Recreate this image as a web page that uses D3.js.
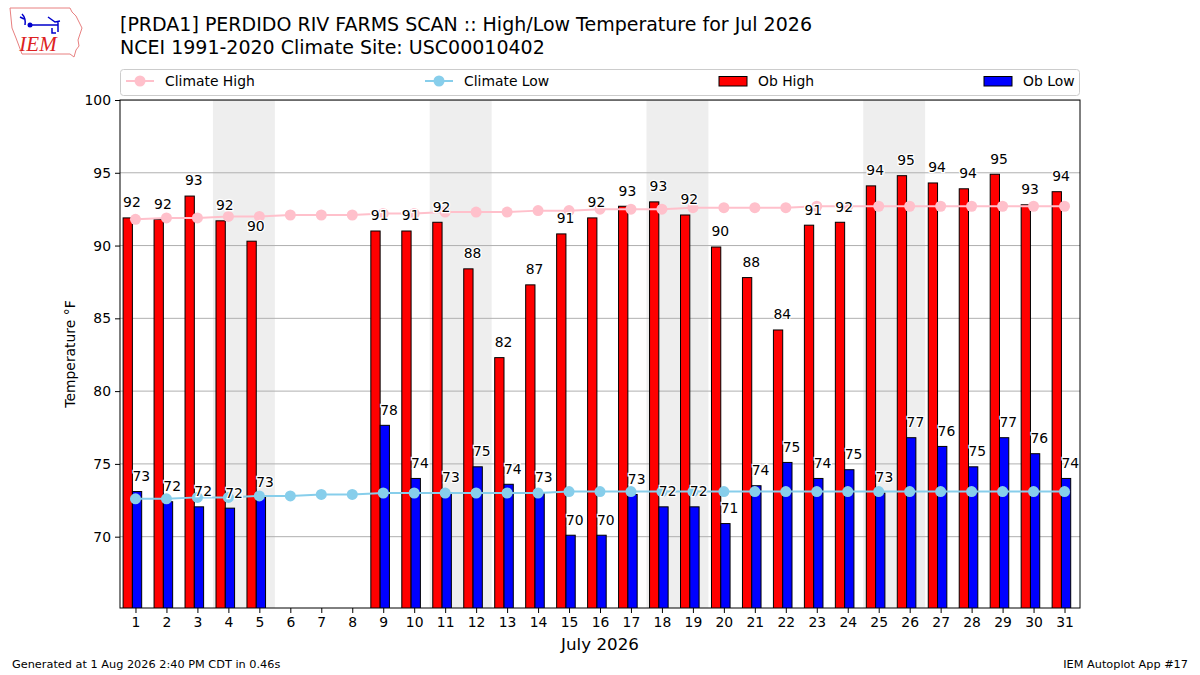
<!DOCTYPE html>
<html>
<head>
<meta charset="utf-8">
<script src="https://cdn.jsdelivr.net/npm/d3@7"></script>
<style>
  body { margin: 0; background: #fff; }
  svg { font-family: "DejaVu Sans", sans-serif; }
</style>
</head>
<body>
<div id="chart"></div>
<script>
(function() {
  // ---- data ----
  var days = d3.range(1, 32);
  // observed highs / lows (null = missing)
  var obHigh = [91.9, 91.8, 93.4, 91.7, 90.3, null, null, null, 91.0, 91.0,
                91.6, 88.4, 82.3, 87.3, 90.8, 91.9, 92.7, 93.0, 92.1, 89.9,
                87.8, 84.2, 91.4, 91.6, 94.1, 94.8, 94.3, 93.9, 94.9, 92.8, 93.7];
  var obLow = [73.1, 72.4, 72.05, 71.96, 72.7, null, null, null, 77.65, 74.0,
               73.0, 74.8, 73.6, 73.0, 70.1, 70.1, 72.9, 72.05, 72.05, 70.9,
               73.5, 75.1, 74.0, 74.6, 73.0, 76.8, 76.2, 74.8, 76.8, 75.7, 74.0];
  var climHigh = [91.8, 91.9, 91.9, 92.0, 92.0, 92.1, 92.1, 92.1, 92.2, 92.2,
                  92.3, 92.3, 92.3, 92.4, 92.4, 92.5, 92.5, 92.5, 92.6, 92.6,
                  92.6, 92.6, 92.7, 92.7, 92.7, 92.7, 92.7, 92.7, 92.7, 92.7, 92.7];
  var climLow = [72.6, 72.6, 72.7, 72.7, 72.8, 72.8, 72.9, 72.9, 73.0, 73.0,
                 73.0, 73.0, 73.0, 73.0, 73.1, 73.1, 73.1, 73.1, 73.1, 73.1,
                 73.1, 73.1, 73.1, 73.1, 73.1, 73.1, 73.1, 73.1, 73.1, 73.1, 73.1];
  var saturdays = [4, 11, 18, 25];
  var yTicks = [70, 75, 80, 85, 90, 95, 100];

  var width = 1200, height = 675;
  var left = 120, right = 1080, top = 100, bottom = 608;

  var svg = d3.select("#chart").append("svg")
      .attr("width", width)
      .attr("height", height);

  var x = d3.scaleLinear().domain([0.5, 31.5]).range([left, right]);
  var y = d3.scaleLinear().domain([65.1, 100]).range([bottom, top]);

  var plot = svg.append("g");

  plot.append("defs").append("clipPath").attr("id", "plotclip")
    .append("rect")
      .attr("x", left).attr("y", top)
      .attr("width", right - left).attr("height", bottom - top);

  var inner = plot.append("g").attr("clip-path", "url(#plotclip)");

  // weekend shading
  inner.selectAll("rect.wk")
      .data(saturdays)
    .join("rect")
      .attr("class", "wk")
      .attr("x", d => x(d - 0.5))
      .attr("width", d => x(d + 1.5) - x(d - 0.5))
      .attr("y", top)
      .attr("height", bottom - top)
      .attr("fill", "#eeeeee");

  // grid
  inner.selectAll("line.grid")
      .data(yTicks)
    .join("line")
      .attr("class", "grid")
      .attr("x1", left).attr("x2", right)
      .attr("y1", d => y(d)).attr("y2", d => y(d))
      .attr("stroke", "#b0b0b0")
      .attr("stroke-width", 1);

  var rows = days.map((d, i) => ({ day: d, hi: obHigh[i], lo: obLow[i], ch: climHigh[i], cl: climLow[i] }));
  var obs = rows.filter(r => r.hi != null);

  // bars
  inner.selectAll("rect.hi")
      .data(obs)
    .join("rect")
      .attr("class", "hi")
      .attr("x", d => x(d.day - 0.4))
      .attr("width", d => x(d.day - 0.1) - x(d.day - 0.4))
      .attr("y", d => y(d.hi))
      .attr("height", d => bottom - y(d.hi) + 2)
      .attr("fill", "#ff0000")
      .attr("stroke", "#000")
      .attr("stroke-width", 1);

  inner.selectAll("rect.lo")
      .data(obs)
    .join("rect")
      .attr("class", "lo")
      .attr("x", d => x(d.day - 0.1))
      .attr("width", d => x(d.day + 0.2) - x(d.day - 0.1))
      .attr("y", d => y(d.lo))
      .attr("height", d => bottom - y(d.lo) + 2)
      .attr("fill", "#0000ff")
      .attr("stroke", "#000")
      .attr("stroke-width", 1);

  // climatology lines
  function climLine(key, color) {
    var line = d3.line().x(d => x(d.day)).y(d => y(d[key]));
    inner.append("path")
        .datum(rows)
        .attr("d", line)
        .attr("fill", "none")
        .attr("stroke", color)
        .attr("stroke-width", 2);
    inner.selectAll("circle." + key)
        .data(rows)
      .join("circle")
        .attr("class", key)
        .attr("cx", d => x(d.day))
        .attr("cy", d => y(d[key]))
        .attr("r", 5.5)
        .attr("fill", color);
  }
  climLine("ch", "#ffc0cb");
  climLine("cl", "#87ceeb");

  // value labels
  function labels(key, off) {
    plot.selectAll("text." + key)
        .data(obs)
      .join("text")
        .attr("class", key)
        .attr("x", d => x(d.day + off))
        .attr("y", d => y(d[key] + 0.5) - 3.3)
        .attr("font-size", "13.9px")
        .attr("fill", "#000")
        .attr("stroke", "#fff")
        .attr("stroke-width", 2.5)
        .attr("paint-order", "stroke")
        .text(d => Math.round(d[key]));
  }
  labels("hi", -0.4);
  labels("lo", -0.1);

  // axes
  var yAxis = d3.axisLeft(y).tickValues(yTicks).tickSize(5).tickPadding(4);
  var xAxis = d3.axisBottom(x).tickValues(days).tickSize(5).tickPadding(4);

  var gy = svg.append("g").attr("transform", `translate(${left},0)`).call(yAxis);
  var gx = svg.append("g").attr("transform", `translate(0,${bottom})`).call(xAxis);
  [gy, gx].forEach(g => {
    g.select(".domain").remove();
    g.selectAll("text").attr("font-size", "13.9px").attr("font-family", "DejaVu Sans").attr("fill", "#000");
    g.selectAll("line").attr("stroke", "#000");
  });

  // frame
  svg.append("rect")
      .attr("x", left).attr("y", top)
      .attr("width", right - left).attr("height", bottom - top)
      .attr("fill", "none")
      .attr("stroke", "#000")
      .attr("stroke-width", 1);

  svg.append("text")
      .attr("transform", `translate(75,${(top + bottom) / 2}) rotate(-90)`)
      .attr("text-anchor", "middle")
      .attr("font-size", "13.9px")
      .text("Temperature °F");

  svg.append("text")
      .attr("x", (left + right) / 2)
      .attr("y", 650)
      .attr("text-anchor", "middle")
      .attr("font-size", "16.7px")
      .text("July 2026");

  // titles
  svg.append("text").attr("x", 120).attr("y", 31).attr("font-size", "19px")
      .text("[PRDA1] PERDIDO RIV FARMS SCAN :: High/Low Temperature for Jul 2026");
  svg.append("text").attr("x", 120).attr("y", 54).attr("font-size", "19px")
      .text("NCEI 1991-2020 Climate Site: USC00010402");

  // legend
  var legend = svg.append("g");
  legend.append("rect")
      .attr("x", 120.5).attr("y", 69.5)
      .attr("width", 959).attr("height", 26)
      .attr("rx", 3)
      .attr("fill", "#fff")
      .attr("stroke", "#cccccc");

  var legendItems = [
    { name: "Climate High", type: "line", color: "#ffc0cb", x: 126 },
    { name: "Climate Low", type: "line", color: "#87ceeb", x: 425 },
    { name: "Ob High", type: "rect", color: "#ff0000", x: 719 },
    { name: "Ob Low", type: "rect", color: "#0000ff", x: 984 }
  ];
  var li = legend.selectAll("g.item")
      .data(legendItems)
    .join("g")
      .attr("class", "item")
      .attr("transform", d => `translate(${d.x},81)`);
  li.filter(d => d.type === "line").append("line")
      .attr("x1", 0).attr("x2", 28)
      .attr("stroke", d => d.color).attr("stroke-width", 2);
  li.filter(d => d.type === "line").append("circle")
      .attr("cx", 14).attr("r", 5.5).attr("fill", d => d.color);
  li.filter(d => d.type === "rect").append("rect")
      .attr("x", 0).attr("y", -4.5).attr("width", 28).attr("height", 9.5)
      .attr("fill", d => d.color).attr("stroke", "#000").attr("stroke-width", 1);
  li.append("text")
      .attr("x", 39).attr("y", 5)
      .attr("font-size", "13.9px")
      .text(d => d.name);

  // footer
  svg.append("text").attr("x", 12).attr("y", 668).attr("font-size", "11.3px")
      .text("Generated at 1 Aug 2026 2:40 PM CDT in 0.46s");
  svg.append("text").attr("x", 1188).attr("y", 668).attr("font-size", "11.3px")
      .attr("text-anchor", "end")
      .text("IEM Autoplot App #17");

  // IEM logo (rough)
  var logo = svg.append("g");
  logo.append("path")
      .attr("d", "M10,8 L70,8 L72,12 L76,16 L79,22 L82,28 L80,34 L78,40 L79,46 L76,50 L74,57 L70,54 L22,54 L19,46 L16,38 L12,28 L11,18 Z")
      .attr("fill", "#fff")
      .attr("stroke", "#e88080")
      .attr("stroke-width", 1);
  logo.append("path")
      .attr("d", "M29,25 L58,25 M58,22 L58,32 M48,17 L55,22 L60,21 M22,14 Q26,18 25,25 M24,19 L20,17 M52,28 L52,33 L56,33")
      .attr("fill", "none")
      .attr("stroke", "#0000cc")
      .attr("stroke-width", 1.5);
  logo.append("circle").attr("cx", 30).attr("cy", 25).attr("r", 2.5).attr("fill", "#0000cc");
  logo.append("text")
      .attr("x", 38).attr("y", 51)
      .attr("text-anchor", "middle")
      .attr("font-family", "Liberation Serif, serif")
      .attr("font-style", "italic")
      .attr("font-size", "21px")
      .attr("fill", "#dd2222")
      .text("IEM");
})();
</script>
</body>
</html>
